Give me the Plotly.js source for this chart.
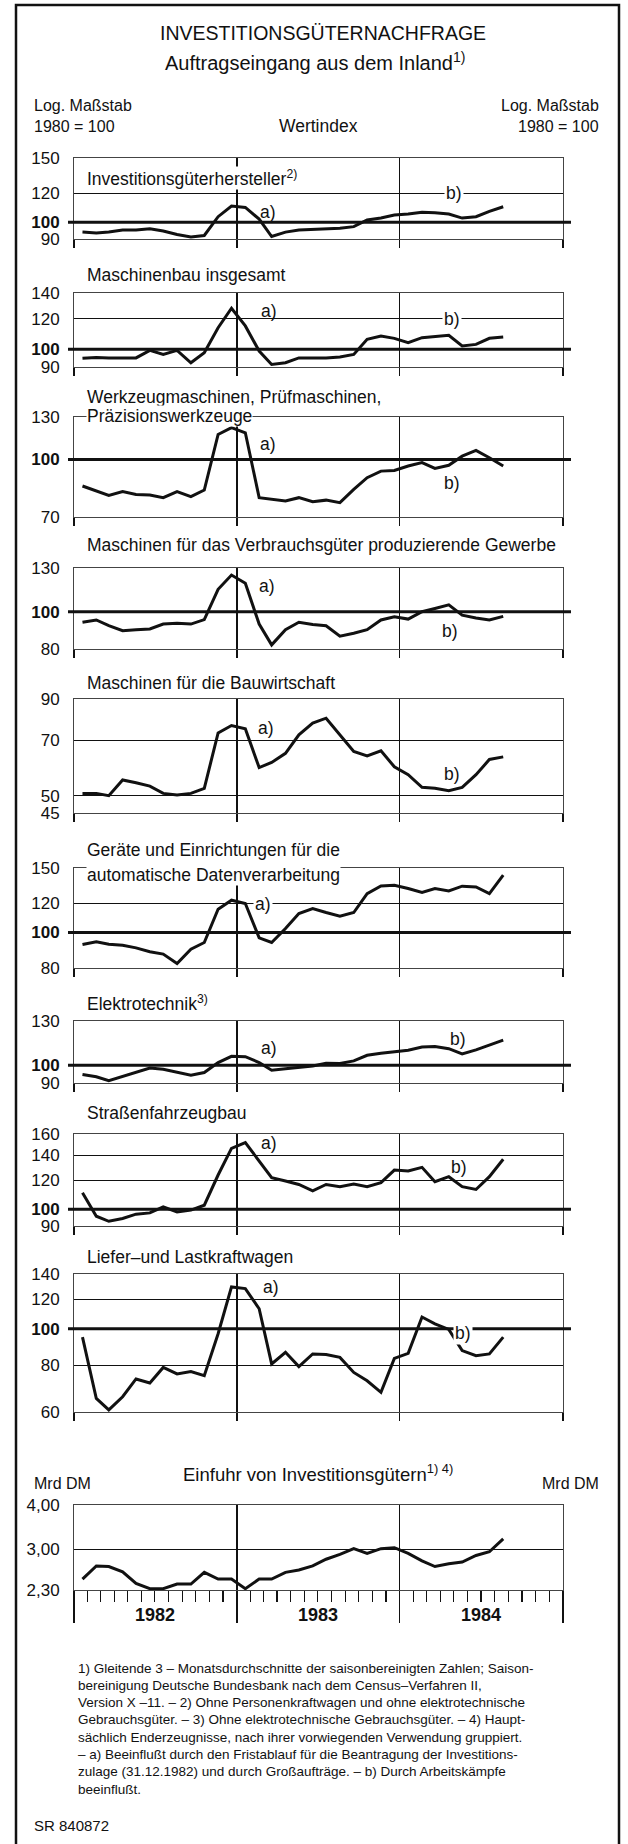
<!DOCTYPE html>
<html>
<head>
<meta charset="utf-8">
<script src="https://cdn.plot.ly/plotly-3.0.1.min.js"></script>
<style>
  html, body { margin: 0; padding: 0; background: #fff; }
  #chart { width: 628px; height: 1844px; }
</style>
</head>
<body>
<div id="chart"></div>
<script>
// Monthly 3-month moving averages, Jan 1982 - Aug 1984
const months = [];
for (let i = 0; i < 32; i++) {
    const y = 1982 + Math.floor(i / 12);
    const m = String(i % 12 + 1).padStart(2, '0');
    months.push(`${y}-${m}-20`);
}

// Wertindex 1980 = 100
const investGueter = [94, 93.5, 94, 95.3, 95.3, 96, 94.7, 92.6, 91.2, 92, 103.6, 110.8, 109.8, 102, 91.4, 94,
    95.3, 95.7, 96, 96.3, 97.3, 101.5, 102.7, 104.7, 105.3, 106.5, 106.2, 105.3, 102.7, 103.6, 107.1, 110.3];
const maschinenbau = [94.8, 95.3, 95, 95, 95, 99.4, 97, 99.4, 92.3, 98, 113.8, 127.8, 115, 99, 91.4, 92.3,
    95, 95, 95, 95.5, 97, 106.2, 108.3, 106.8, 104, 107.2, 108, 108.7, 102, 103, 106.8, 107.6];
const werkzeugMasch = [84.8, 82.2, 80, 81.9, 80.5, 80.2, 78.9, 81.9, 79.4, 82.7, 116.7, 121.7, 117.9, 78.9, 78, 77.3,
    78.9, 76.9, 77.7, 76.5, 83, 89.3, 93, 93.4, 96, 98, 94.6, 96.4, 102, 105.7, 101, 96];
const verbrauchsMasch = [93.9, 95.2, 92, 89.3, 89.8, 90.2, 92.9, 93.3, 92.9, 95.4, 114.4, 124.6, 118.6, 92.9, 82, 89.8,
    93.9, 92.6, 92, 86.4, 87.9, 89.8, 95.2, 97.1, 95.7, 100, 102, 104.2, 98, 96.3, 95.2, 97.3];
const bauMasch = [50.7, 50.7, 50, 55, 54.1, 53, 50.7, 50.2, 50.7, 52.3, 73.2, 76.6, 75.1, 59.3, 61.2, 64.7,
    72.4, 77.7, 80.1, 72.4, 65.4, 63.7, 65.7, 59.6, 56.8, 52.6, 52.3, 51.5, 52.6, 56.8, 62.3, 63.3];
const edvGeraete = [92.7, 94.3, 92.9, 92.3, 90.8, 88.6, 87.3, 82.3, 90, 93.9, 115.8, 122.5, 120, 96.7, 93.9, 102.5,
    112.7, 116.3, 113.4, 110.8, 113.4, 127.7, 134, 134.6, 131.9, 128.6, 131.9, 129.9, 133.8, 133.2, 127.7, 143.4];
const elektrotechnik = [94.6, 93.4, 91.2, 93.7, 95.8, 98.4, 97.7, 95.8, 94.3, 95.8, 101.6, 105.4, 105.2, 101.6, 97.1, 97.9,
    98.8, 99.6, 101.2, 101, 102.6, 106.1, 107.3, 108.4, 109.3, 111.4, 111.8, 110.3, 106.9, 109.5, 112.5, 116.1];
const strassenFzg = [110.8, 95.7, 92.7, 94.3, 96.9, 97.7, 101.5, 98.3, 99.4, 102.5, 123.8, 146.3, 151.6, 134.6, 121.8, 119.2,
    116.7, 112.2, 116.7, 115.1, 117, 115.1, 118, 127.7, 126.9, 129.9, 118.7, 122.5, 115.1, 113.1, 122.5, 136.6];
const lkw = [95, 65.2, 60.8, 65.9, 73.5, 71.7, 78.9, 75.8, 76.9, 75, 97, 129.3, 128, 113.1, 80.6, 86.6,
    79.3, 85.7, 85.4, 83.9, 76.5, 72.7, 67.7, 83.4, 86, 107.5, 103.1, 99.6, 87.5, 84.8, 85.7, 95];
// Mrd DM
const einfuhr = [2.47, 2.69, 2.68, 2.59, 2.40, 2.32, 2.32, 2.39, 2.39, 2.58, 2.47, 2.47, 2.32, 2.47, 2.47, 2.58,
    2.62, 2.69, 2.81, 2.90, 3.01, 2.92, 3.01, 3.03, 2.92, 2.78, 2.68, 2.73, 2.76, 2.88, 2.95, 3.21];

const seriesList = [investGueter, maschinenbau, werkzeugMasch, verbrauchsMasch, bauMasch,
    edvGeraete, elektrotechnik, strassenFzg, lkw, einfuhr];

const W = 628, H = 1844;
const FONT = '"Liberation Sans", Arial, sans-serif';
const INK = '#111';
const px = v => v / W;
const py = v => 1 - v / H;

// panel layout (pixel positions of top / bottom of each plot box)
const panels = [
    { titles: [['Investitionsgüterhersteller<sup>2)</sup>', 178]], top: 158, bottom: 239, range: [90, 150], ticks: [90, 100, 120, 150] },
    { titles: [['Maschinenbau insgesamt', 275]], top: 293, bottom: 367, range: [90, 140], ticks: [90, 100, 120, 140] },
    { titles: [['Werkzeugmaschinen, Prüfmaschinen,', 397], ['Präzisionswerkzeuge', 416]], top: 417, bottom: 517, range: [70, 130], ticks: [70, 100, 130] },
    { titles: [['Maschinen für das Verbrauchsgüter produzierende Gewerbe', 545]], top: 568, bottom: 649, range: [80, 130], ticks: [80, 100, 130] },
    { titles: [['Maschinen für die Bauwirtschaft', 683]], top: 699, bottom: 813, range: [45, 90], ticks: [45, 50, 70, 90], no100: true },
    { titles: [['Geräte und Einrichtungen für die', 850], ['automatische Datenverarbeitung', 875]], top: 868, bottom: 968, range: [80, 150], ticks: [80, 100, 120, 150] },
    { titles: [['Elektrotechnik<sup>3)</sup>', 1003]], top: 1021, bottom: 1083, range: [90, 130], ticks: [90, 100, 130] },
    { titles: [['Straßenfahrzeugbau', 1113]], top: 1134, bottom: 1226, range: [90, 160], ticks: [90, 100, 120, 140, 160] },
    { titles: [['Liefer–und Lastkraftwagen', 1257]], top: 1274, bottom: 1412, range: [60, 140], ticks: [60, 80, 100, 120, 140] },
    { titles: [], top: 1505, bottom: 1590, range: [2.3, 4], ticks: [2.3, 3, 4], labels: ['2,30', '3,00', '4,00'], no100: true, last: true }
];

// a) / b) remarks: [panel, text, date, value, white background]
const remarks = [
    [0, 'a)', '1983-03-12', 106.5, false], [0, 'b)', '1984-05-01', 120, true],
    [1, 'a)', '1983-03-15', 126, false], [1, 'b)', '1984-04-28', 120, true],
    [2, 'a)', '1983-03-12', 110, false], [2, 'b)', '1984-04-28', 86.6, false],
    [3, 'a)', '1983-03-10', 116.7, false], [3, 'b)', '1984-04-22', 89.3, false],
    [4, 'a)', '1983-03-08', 75.3, false], [4, 'b)', '1984-04-28', 57.2, false],
    [5, 'a)', '1983-03-01', 120, true],
    [6, 'a)', '1983-03-15', 111, false], [6, 'b)', '1984-05-10', 116.6, false],
    [7, 'a)', '1983-03-15', 151, false], [7, 'b)', '1984-05-12', 130, false],
    [8, 'a)', '1983-03-19', 129.3, false], [8, 'b)', '1984-05-22', 97.6, true]
];

const footnotes = [
    '1) Gleitende 3 – Monatsdurchschnitte der saisonbereinigten Zahlen; Saison-',
    'bereinigung Deutsche Bundesbank nach dem Census–Verfahren II,',
    'Version X –11. – 2) Ohne Personenkraftwagen und ohne elektrotechnische',
    'Gebrauchsgüter. – 3) Ohne elektrotechnische Gebrauchsgüter. – 4) Haupt-',
    'sächlich Enderzeugnisse, nach ihrer vorwiegenden Verwendung gruppiert.',
    '– a) Beeinflußt durch den Fristablauf für die Beantragung der Investitions-',
    'zulage (31.12.1982) und durch Großaufträge. – b) Durch Arbeitskämpfe',
    'beeinflußt.'
];
const years = ['1982', '1983', '1984'];

const traces = [];
const layout = {
    width: W, height: H,
    margin: { l: 0, r: 0, t: 0, b: 0 },
    paper_bgcolor: '#fff', plot_bgcolor: 'rgba(0,0,0,0)',
    showlegend: false,
    font: { family: FONT, color: INK, size: 17 },
    shapes: [], annotations: []
};

function text(t, x, y, size, anchor, extra) {
    layout.annotations.push(Object.assign({
        text: t, xref: 'paper', yref: 'paper', x: px(x), y: py(y),
        xanchor: anchor || 'left', yanchor: 'middle', showarrow: false,
        font: { family: FONT, size: size, color: INK }
    }, extra || {}));
}

panels.forEach((p, k) => {
    const n = k + 1;
    const sfx = n === 1 ? '' : String(n);
    const ticktext = p.labels || p.ticks.map(v => v === 100 ? '<b>100</b>' : String(v));
    const yCommon = {
        domain: [py(p.bottom), py(p.top)],
        type: 'log',
        range: p.range.map(Math.log10),
        tickvals: p.ticks, ticktext: ticktext,
        tickfont: { family: FONT, size: 17, color: INK },
        ticks: '', ticklabelstandoff: 10,
        zeroline: false, fixedrange: true
    };
    layout['yaxis' + sfx] = Object.assign({}, yCommon, {
        anchor: 'x' + sfx, showgrid: true, gridcolor: INK, gridwidth: 1,
        showline: true, mirror: true, linecolor: '#444', linewidth: 1
    });
    layout['yaxis' + (n + 10)] = Object.assign({}, yCommon, {
        anchor: 'x' + sfx, overlaying: 'y' + sfx, side: 'right', showgrid: false, showline: false
    });
    layout['xaxis' + sfx] = {
        domain: [px(74), px(563)], anchor: 'y' + sfx, type: 'date',
        range: ['1982-01-01', '1985-01-01'], tick0: '1982-01-01', dtick: 'M12',
        showgrid: true, gridcolor: INK, gridwidth: 1.3,
        showline: true, mirror: true, linecolor: '#444', linewidth: 1,
        ticks: 'outside', ticklen: p.last ? 32 : 8, tickwidth: 1.3, tickcolor: INK,
        showticklabels: false, zeroline: false, fixedrange: true
    };
    if (p.last) {
        layout['xaxis' + sfx].minor = { dtick: 'M1', ticks: 'outside', ticklen: 11, tickwidth: 1.3, tickcolor: INK, showgrid: false };
        // year labels centered in each year, between the long year ticks
        years.forEach(y => layout.annotations.push({
            text: '<b>' + y + '</b>', xref: 'x' + sfx, yref: 'paper',
            x: y + '-07-02', y: py(1615), xanchor: 'center', yanchor: 'middle', showarrow: false,
            font: { family: FONT, size: 18, color: INK }
        }));
    }

    traces.push({
        x: months, y: seriesList[k], xaxis: 'x' + sfx, yaxis: 'y' + sfx,
        type: 'scatter', mode: 'lines', hoverinfo: 'skip',
        line: { color: INK, width: 3 }
    });

    if (!p.no100) {
        layout.shapes.push({
            type: 'line', xref: 'paper', x0: px(68), x1: px(571),
            yref: 'y' + sfx, y0: 100, y1: 100,
            line: { color: INK, width: 3 }
        });
    }

    p.titles.forEach(([t, y]) => text(t, 86, y, 17.5, 'left', { bgcolor: '#fff', borderpad: 0 }));
});

remarks.forEach(([k, t, d, v, bg]) => {
    const sfx = k === 0 ? '' : String(k + 1);
    const a = {
        text: t, xref: 'x' + sfx, yref: 'y' + sfx, x: d, y: Math.log10(v),
        xanchor: 'center', yanchor: 'middle', showarrow: false,
        font: { family: FONT, size: 17.5, color: INK }
    };
    if (bg) { a.bgcolor = '#fff'; a.borderpad = 1; }
    layout.annotations.push(a);
});

// header
text('INVESTITIONSGÜTERNACHFRAGE', 323, 33, 19.5, 'center');
text('Auftragseingang aus dem Inland<sup>1)</sup>', 315, 62, 20, 'center');
text('Log. Maßstab', 32, 106, 16, 'left');
text('1980 = 100', 32, 126, 16, 'left');
text('Log. Maßstab', 601, 106, 16, 'right');
text('1980 = 100', 601, 126, 16, 'right');
text('Wertindex', 318, 126, 17.5, 'center');

// import panel labels
text('Einfuhr von Investitionsgütern<sup>1) 4)</sup>', 318, 1473, 18.5, 'center');
text('Mrd DM', 32, 1483, 16, 'left');
text('Mrd DM', 601, 1483, 16, 'right');

// footnotes
footnotes.forEach((t, i) => text(t, 76, 1668 + i * 17.3, 13.5, 'left'));
text('SR 840872', 32, 1825, 15, 'left');

// outer frame
layout.shapes.push({
    type: 'rect', xref: 'paper', yref: 'paper',
    x0: px(16), x1: px(619), y0: py(1860), y1: py(5),
    line: { color: INK, width: 2.5 }
});

Plotly.newPlot('chart', traces, layout, { staticPlot: true, displayModeBar: false });
</script>
</body>
</html>
